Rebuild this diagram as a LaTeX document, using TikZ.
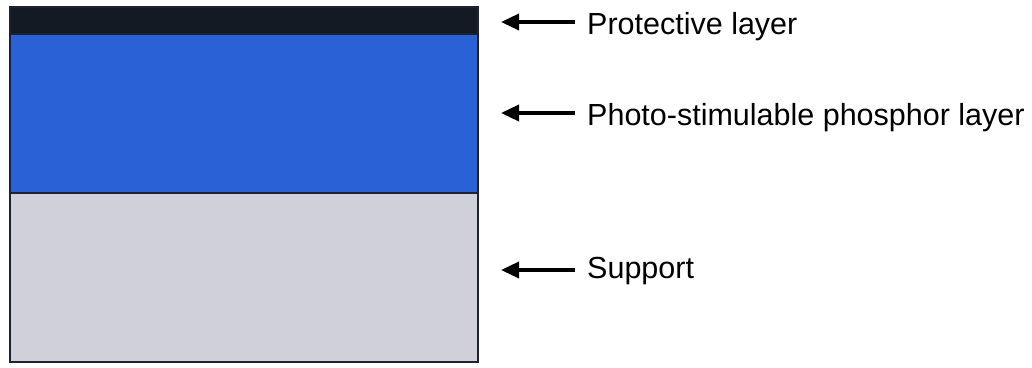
\documentclass[tikz,border=0pt]{standalone}
\usepackage{fontspec}
\setmainfont{Liberation Sans}
\usetikzlibrary{arrows.meta}
\definecolor{darklayer}{HTML}{141A24}
\definecolor{bluelayer}{HTML}{2A62D6}
\definecolor{graylayer}{HTML}{CFD0D9}
\definecolor{edge}{HTML}{1C2230}
\tikzset{
  layer/.style={inner sep=0pt, outer sep=0pt, draw=edge, line width=2pt},
  lbl/.style={anchor=base west, inner sep=0pt, font=\fontsize{30.5}{34}\selectfont},
  pointer/.style={-{Triangle[length=18pt,width=16pt]}, line width=3.5pt}
}
\begin{document}
\begin{tikzpicture}[x=1pt,y=-1pt]
\useasboundingbox (0,0) rectangle (1032,367);
\fill[white] (0,0) rectangle (1032,367);
\filldraw[layer, fill=darklayer] (10,7) rectangle (478,34);
\filldraw[layer, fill=bluelayer] (10,34) rectangle (478,193);
\filldraw[layer, fill=graylayer] (10,193) rectangle (478,362);
\node[lbl] (t1) at (587,34.5) {Protective layer};
\node[lbl] (t2) at (587,125.5) {Photo-stimulable phosphor layer};
\node[lbl] (t3) at (587,278) {Support};
\coordinate (s1) at (575,22);
\coordinate (s2) at (575,113);
\coordinate (s3) at (575,270);
\coordinate (a1) at (501,22);
\coordinate (a2) at (501,113);
\coordinate (a3) at (501,270);
\draw[pointer] (s1) -- (a1);
\draw[pointer] (s2) -- (a2);
\draw[pointer] (s3) -- (a3);
\end{tikzpicture}
\end{document}
